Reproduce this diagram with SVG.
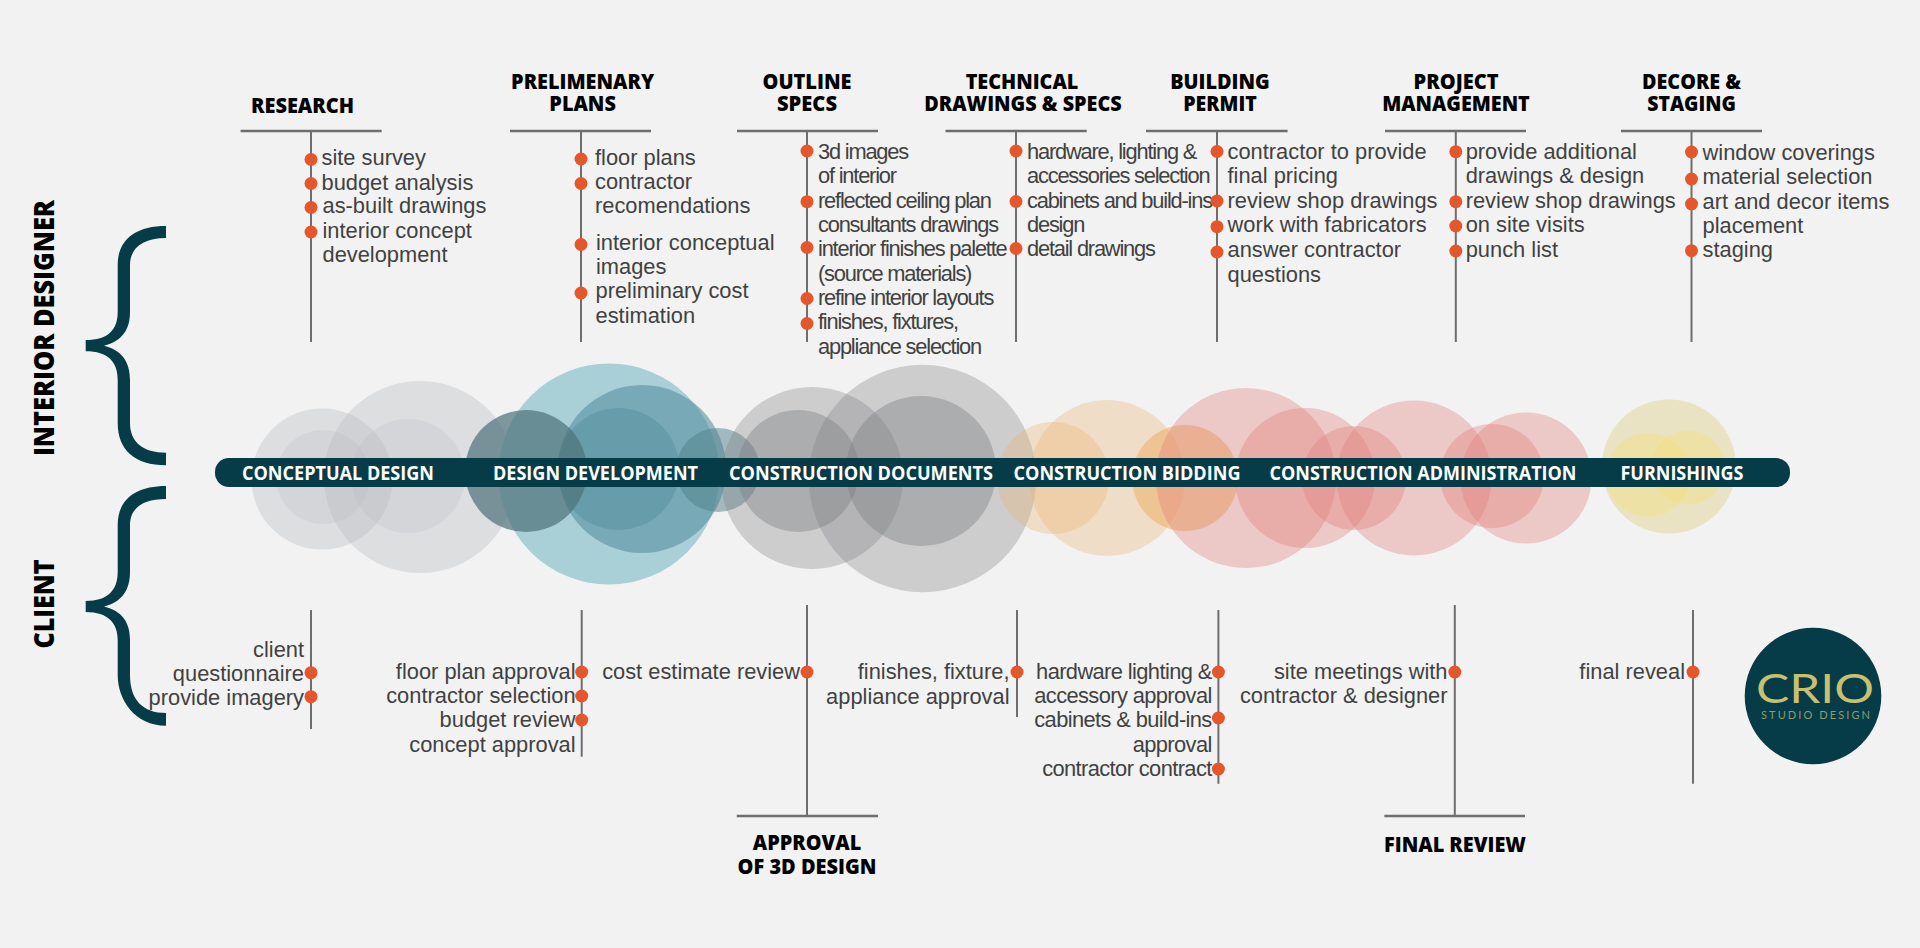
<svg xmlns="http://www.w3.org/2000/svg" width="1920" height="948" viewBox="0 0 1920 948">
<style>
.b{font-family:"Liberation Sans",Arial,sans-serif;font-size:21.85px;fill:#414141}
.n{letter-spacing:-1.2px}
.m{letter-spacing:-.6px}
.e{text-anchor:end}
.t{font-family:"Open Sans",sans-serif;font-weight:800;font-size:21px;fill:#000;text-anchor:middle}
.s{font-family:"Open Sans",sans-serif;font-weight:700;font-size:19.5px;fill:#fff;text-anchor:middle}
.r{font-family:"Open Sans",sans-serif;font-weight:800;font-size:29px;fill:#000;text-anchor:middle}
.d{fill:#e5562b}
.l{stroke:#6e6e6e;stroke-width:2;fill:none}
.h{stroke:#6e6e6e;stroke-width:2.4;fill:none}
.br{fill:#063c47}
</style>
<rect id="background" width="1920" height="948" fill="#f2f2f2"/>
<g id="side-labels">
<text class="r" transform="translate(53.5 328) rotate(-90)" textLength="256" lengthAdjust="spacingAndGlyphs">INTERIOR DESIGNER</text>
<text class="r" transform="translate(53.5 604) rotate(-90)" textLength="89" lengthAdjust="spacingAndGlyphs">CLIENT</text>
<path class="br" d="M166,226C135,226 117.7,240 117.7,265L117.7,312C117.7,330 108,340 85.7,340L85.7,351.3C108,351.3 117.7,362 117.7,380L117.7,423C117.7,450 135,465.3 166,465.3L166,452.7C143,452.7 130,442 130,423L130,380C130,362 122,350 104,345.7C122,341 130,330 130,312L130,265C130,248 143,238 166,238Z"/>
<path class="br" d="M166,486C135,486 117.7,500 117.7,525L117.7,572C117.7,590 108,601 85.7,601L85.7,612C108,612 117.7,623 117.7,640L117.7,675C117.7,700 135,725.7 166,725.7L166,713C143,713 130,700 130,675L130,640C130,622 122,611 104,606.5C122,602 130,590 130,572L130,525C130,508 143,499 166,499Z"/>
</g>
<g id="phase-circles">
<g id="conceptual-circles" fill="#b4b6bc">
<circle cx="322" cy="479" r="70.5" fill-opacity=".33"/><circle cx="323" cy="477" r="47" fill-opacity=".2"/><circle cx="420" cy="477" r="96" fill-opacity=".33"/><circle cx="408" cy="476" r="57" fill-opacity=".2"/>
</g>
<g id="development-circles">
<circle cx="609" cy="474" r="110.5" fill="#a9d0d7"/>
<circle cx="642" cy="469" r="84" fill="#4f8a9b" fill-opacity=".55"/>
<circle cx="618.5" cy="469" r="61" fill="#4f8a9b" fill-opacity=".4"/>
<circle cx="526" cy="471" r="61" fill="#4d7079" fill-opacity=".7"/>
<circle cx="718" cy="470" r="42" fill="#4f7f8c" fill-opacity=".5"/>
</g>
<g id="documents-circles" fill="#7e8082">
<circle cx="812" cy="478" r="91" fill-opacity=".32"/><circle cx="922.5" cy="478.5" r="113.7" fill-opacity=".32"/><circle cx="798" cy="471" r="61" fill-opacity=".42"/><circle cx="921" cy="471" r="75" fill-opacity=".42"/>
</g>
<g id="bidding-circles" fill="#eeb46f" fill-opacity=".33">
<circle cx="1053" cy="478" r="56"/><circle cx="1107" cy="478" r="78"/><circle cx="1185" cy="478" r="53" fill-opacity=".6"/>
</g>
<g id="administration-circles" fill="#e07d78" fill-opacity=".36">
<circle cx="1246" cy="478" r="90"/><circle cx="1305" cy="478" r="70"/><circle cx="1354" cy="478" r="52"/><circle cx="1414" cy="478" r="77.5"/><circle cx="1492" cy="476" r="52"/><circle cx="1526" cy="478" r="65.5"/>
</g>
<g id="furnishings-circles">
<circle cx="1669" cy="466.5" r="67" fill="#e9e3c3"/>
<circle cx="1648" cy="475" r="42" fill="#f5de7c" fill-opacity=".42"/>
<circle cx="1688" cy="467.5" r="37" fill="#f5de7c" fill-opacity=".42"/>
</g>
</g>
<g id="timeline">
<rect x="215" y="458" width="1575" height="29" rx="14" fill="#063c47"/>
<text class="s" x="338" y="479.5" textLength="192" lengthAdjust="spacingAndGlyphs">CONCEPTUAL DESIGN</text>
<text class="s" x="595.5" y="479.5" textLength="205" lengthAdjust="spacingAndGlyphs">DESIGN DEVELOPMENT</text>
<text class="s" x="861" y="479.5" textLength="264" lengthAdjust="spacingAndGlyphs">CONSTRUCTION DOCUMENTS</text>
<text class="s" x="1127" y="479.5" textLength="227" lengthAdjust="spacingAndGlyphs">CONSTRUCTION BIDDING</text>
<text class="s" x="1423" y="479.5" textLength="307" lengthAdjust="spacingAndGlyphs">CONSTRUCTION ADMINISTRATION</text>
<text class="s" x="1682" y="479.5" textLength="123" lengthAdjust="spacingAndGlyphs">FURNISHINGS</text>
</g>
<g id="connectors">
<path class="h" d="M240.6,131H381.7M510,131H651M737,131H878M945.5,131H1086.7M1146,131H1287.6M1385,131H1526M1621,131H1762M736.7,816H878M1384.4,816H1525"/>
<path class="l" d="M311,131V342M581,131V342M807,131V342M1016,131V342M1217,131V342M1455.8,131V342M1691.5,131V342M311,610V729M581.7,610V756.7M807,605V816M1017,610V717M1218.4,610V783.7M1454.8,605V816M1693,610V783.7"/>
</g>
<g id="research">
<text class="t" x="302.5" y="112.7" textLength="103" lengthAdjust="spacingAndGlyphs">RESEARCH</text>
<circle class="d" cx="311" cy="159.5" r="6.5"/><circle class="d" cx="311" cy="183.5" r="6.5"/><circle class="d" cx="311" cy="207.5" r="6.5"/><circle class="d" cx="311" cy="232" r="6.5"/>
<text class="b" x="321.5" y="165">site survey</text>
<text class="b" x="321.5" y="189.5">budget analysis</text>
<text class="b" x="322.5" y="213">as-built drawings</text>
<text class="b" x="322.5" y="237.5">interior concept</text>
<text class="b" x="322.5" y="261.7">development</text>
</g>
<g id="preliminary-plans">
<text class="t" x="582.6" y="89.3" textLength="143" lengthAdjust="spacingAndGlyphs">PRELIMENARY</text>
<text class="t" x="582.6" y="111" textLength="66.5" lengthAdjust="spacingAndGlyphs">PLANS</text>
<circle class="d" cx="581" cy="159" r="6.5"/><circle class="d" cx="581" cy="183.5" r="6.5"/><circle class="d" cx="581" cy="244.5" r="6.5"/><circle class="d" cx="581" cy="293" r="6.5"/>
<text class="b" x="595" y="165">floor plans</text>
<text class="b" x="595" y="188.5">contractor</text>
<text class="b" x="595" y="212.7">recomendations</text>
<text class="b" x="596" y="250">interior conceptual</text>
<text class="b" x="596" y="274">images</text>
<text class="b" x="595.5" y="298">preliminary cost</text>
<text class="b" x="595.5" y="323">estimation</text>
</g>
<g id="outline-specs">
<text class="t" x="807" y="89.3" textLength="89" lengthAdjust="spacingAndGlyphs">OUTLINE</text>
<text class="t" x="807" y="111" textLength="60" lengthAdjust="spacingAndGlyphs">SPECS</text>
<circle class="d" cx="807" cy="151" r="6.5"/><circle class="d" cx="807" cy="201.7" r="6.5"/><circle class="d" cx="807" cy="247.5" r="6.5"/><circle class="d" cx="807" cy="298.5" r="6.5"/><circle class="d" cx="807" cy="323.5" r="6.5"/>
<text class="b n" x="818" y="159">3d images</text>
<text class="b n" x="818" y="183">of interior</text>
<text class="b n" x="818" y="207.7">reflected ceiling plan</text>
<text class="b n" x="818" y="232">consultants drawings</text>
<text class="b n" x="818" y="256">interior finishes palette</text>
<text class="b n" x="818" y="280.7">(source materials)</text>
<text class="b n" x="818" y="305">refine interior layouts</text>
<text class="b n" x="818" y="329">finishes, fixtures,</text>
<text class="b n" x="818" y="354">appliance selection</text>
</g>
<g id="technical-drawings">
<text class="t" x="1022" y="89.3" textLength="112.7" lengthAdjust="spacingAndGlyphs">TECHNICAL</text>
<text class="t" x="1023" y="111" textLength="197.3" lengthAdjust="spacingAndGlyphs">DRAWINGS &amp; SPECS</text>
<circle class="d" cx="1016" cy="151" r="6.5"/><circle class="d" cx="1016" cy="201.5" r="6.5"/><circle class="d" cx="1016" cy="248.5" r="6.5"/>
<text class="b n" x="1027" y="159">hardware, lighting &amp;</text>
<text class="b n" x="1027" y="183">accessories selection</text>
<text class="b n" x="1027" y="207.7">cabinets and build-ins</text>
<text class="b n" x="1027" y="232">design</text>
<text class="b n" x="1027" y="256">detail drawings</text>
</g>
<g id="building-permit">
<text class="t" x="1220" y="89.3" textLength="99.6" lengthAdjust="spacingAndGlyphs">BUILDING</text>
<text class="t" x="1220" y="111" textLength="73.5" lengthAdjust="spacingAndGlyphs">PERMIT</text>
<circle class="d" cx="1217" cy="151.5" r="6.5"/><circle class="d" cx="1217" cy="201" r="6.5"/><circle class="d" cx="1217" cy="226.7" r="6.5"/><circle class="d" cx="1217" cy="252" r="6.5"/>
<text class="b" x="1227.5" y="159">contractor to provide</text>
<text class="b" x="1227.5" y="183">final pricing</text>
<text class="b" x="1227.5" y="207.7">review shop drawings</text>
<text class="b" x="1227.5" y="232">work with fabricators</text>
<text class="b" x="1227.5" y="256.7">answer contractor</text>
<text class="b" x="1227.5" y="281.7">questions</text>
</g>
<g id="project-management">
<text class="t" x="1456" y="89.3" textLength="85" lengthAdjust="spacingAndGlyphs">PROJECT</text>
<text class="t" x="1456" y="111" textLength="147.5" lengthAdjust="spacingAndGlyphs">MANAGEMENT</text>
<circle class="d" cx="1455.8" cy="151.7" r="6.5"/><circle class="d" cx="1455.8" cy="201.7" r="6.5"/><circle class="d" cx="1455.8" cy="226" r="6.5"/><circle class="d" cx="1455.8" cy="251" r="6.5"/>
<text class="b" x="1465.7" y="159">provide additional</text>
<text class="b" x="1465.7" y="183">drawings &amp; design</text>
<text class="b" x="1465.7" y="207.7">review shop drawings</text>
<text class="b" x="1465.7" y="232">on site visits</text>
<text class="b" x="1465.7" y="256.7">punch list</text>
</g>
<g id="decore-staging">
<text class="t" x="1691.5" y="89.3" textLength="99" lengthAdjust="spacingAndGlyphs">DECORE &amp;</text>
<text class="t" x="1691.5" y="111" textLength="88.6" lengthAdjust="spacingAndGlyphs">STAGING</text>
<circle class="d" cx="1691.5" cy="152" r="6.5"/><circle class="d" cx="1691.5" cy="179" r="6.5"/><circle class="d" cx="1691.5" cy="204" r="6.5"/><circle class="d" cx="1691.5" cy="250.7" r="6.5"/>
<text class="b" x="1702.5" y="160">window coverings</text>
<text class="b" x="1702.5" y="184">material selection</text>
<text class="b" x="1702.5" y="209">art and decor items</text>
<text class="b" x="1702.5" y="233">placement</text>
<text class="b" x="1702.5" y="257">staging</text>
</g>
<g id="client-research">
<circle class="d" cx="311" cy="672.7" r="6.5"/><circle class="d" cx="311" cy="696.7" r="6.5"/>
<text class="b e" x="304" y="656.7">client</text>
<text class="b e" x="304" y="680.5">questionnaire</text>
<text class="b e" x="304" y="704.5">provide imagery</text>
</g>
<g id="client-preliminary">
<circle class="d" cx="581.7" cy="672" r="6.5"/><circle class="d" cx="581.7" cy="696" r="6.5"/><circle class="d" cx="581.7" cy="720" r="6.5"/>
<text class="b e" x="575.6" y="679">floor plan approval</text>
<text class="b e" x="575.6" y="703">contractor selection</text>
<text class="b e" x="575.6" y="727">budget review</text>
<text class="b e" x="575.6" y="752">concept approval</text>
</g>
<g id="client-outline">
<circle class="d" cx="807" cy="672" r="6.5"/>
<text class="b e" x="800" y="679">cost estimate review</text>
<text class="t" x="807" y="849.7" textLength="108.4" lengthAdjust="spacingAndGlyphs">APPROVAL</text>
<text class="t" x="807" y="873.7" textLength="139" lengthAdjust="spacingAndGlyphs">OF 3D DESIGN</text>
</g>
<g id="client-technical">
<circle class="d" cx="1017" cy="672" r="6.5"/>
<text class="b e" x="1009.5" y="679">finishes, fixture,</text>
<text class="b e" x="1009.5" y="704">appliance approval</text>
</g>
<g id="client-building">
<circle class="d" cx="1218.4" cy="672" r="6.5"/><circle class="d" cx="1218.4" cy="718" r="6.5"/><circle class="d" cx="1218.4" cy="769" r="6.5"/>
<text class="b e m" x="1211.7" y="679">hardware lighting &amp;</text>
<text class="b e m" x="1211.7" y="703">accessory approval</text>
<text class="b e m" x="1211.7" y="727">cabinets &amp; build-ins</text>
<text class="b e m" x="1211.7" y="751.7">approval</text>
<text class="b e m" x="1211.7" y="776">contractor contract</text>
</g>
<g id="client-project">
<circle class="d" cx="1454.8" cy="672" r="6.5"/>
<text class="b e" x="1447.5" y="679">site meetings with</text>
<text class="b e" x="1447.5" y="703">contractor &amp; designer</text>
<text class="t" x="1455" y="851.7" textLength="142" lengthAdjust="spacingAndGlyphs">FINAL REVIEW</text>
</g>
<g id="client-decore">
<circle class="d" cx="1693" cy="672" r="6.5"/>
<text class="b e" x="1685" y="679">final reveal</text>
</g>
<g id="logo">
<circle cx="1813" cy="696" r="68.3" fill="#063c47"/>
<text x="1815" y="702.7" font-family="Lato,sans-serif" font-size="41" fill="#c9bf6e" text-anchor="middle" textLength="118" lengthAdjust="spacingAndGlyphs">CRIO</text>
<text x="1815.5" y="719" font-family="Lato,sans-serif" font-size="11" fill="#8f9c6c" text-anchor="middle" textLength="109">STUDIO DESIGN</text>
</g>
</svg>
